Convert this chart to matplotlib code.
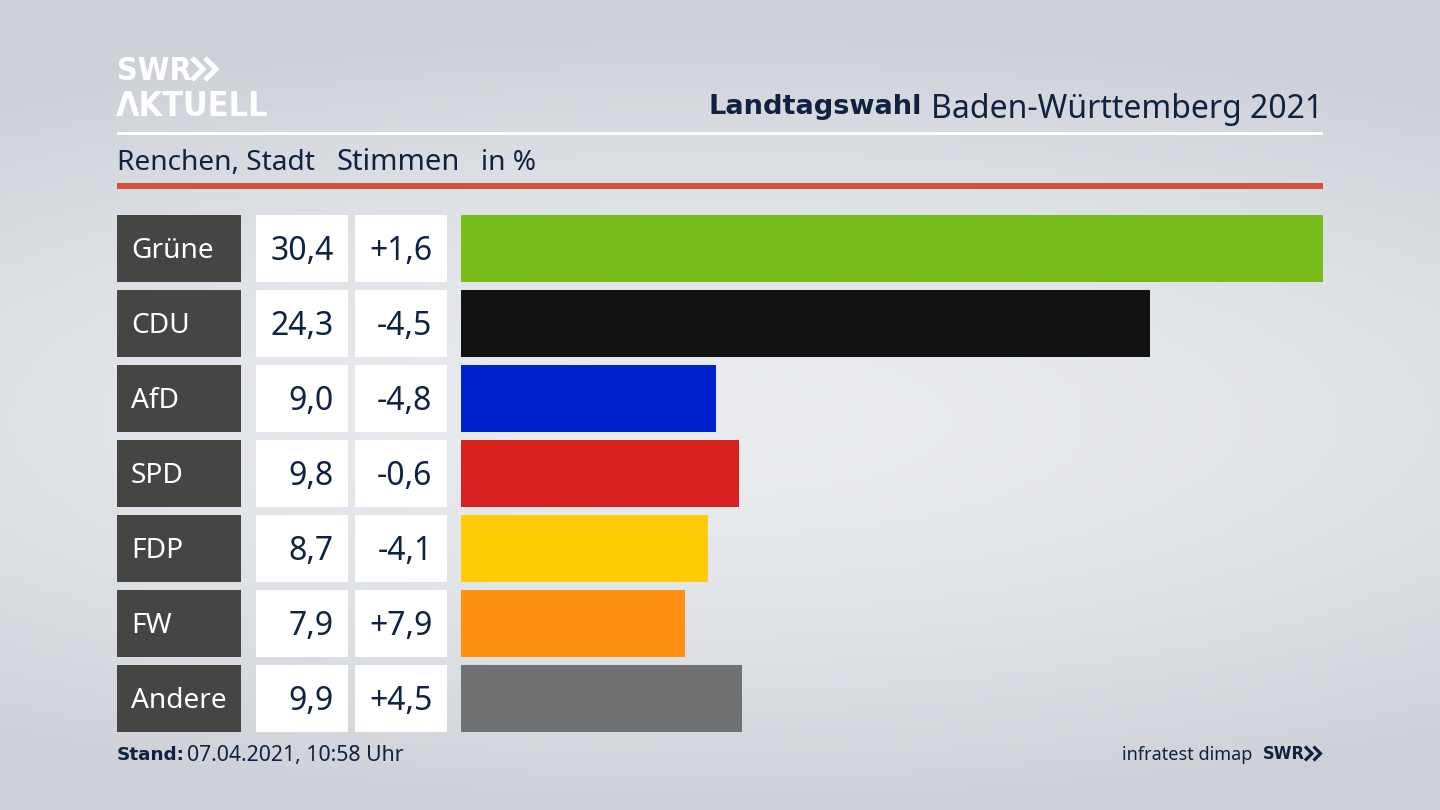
# -*- coding: utf-8 -*-
import numpy as np
import matplotlib
matplotlib.use("Agg")
import matplotlib.pyplot as plt
from matplotlib.patches import Rectangle

plt.rcParams["font.family"] = ["Noto Sans", "DejaVu Sans"]
BOLD = ["DejaVu Sans"]

parties = ["Grüne", "CDU", "AfD", "SPD", "FDP", "FW", "Andere"]
votes = [30.4, 24.3, 9.0, 9.8, 8.7, 7.9, 9.9]
diffs = ["+1,6", "-4,5", "-4,8", "-0,6", "-4,1", "+7,9", "+4,5"]
colors = ["#78bc1a", "#121212", "#0022cc", "#d8201e", "#ffcc08", "#ff9012", "#707173"]

navy = "#0f2240"
row_top = 215
row_h = 66.5
pitch = 75

fig = plt.figure(figsize=(14.4, 8.1), dpi=100)

# whole figure in pixels, y pointing down
bg = fig.add_axes([0, 0, 1, 1])
bg.set_xlim(0, 1440)
bg.set_ylim(810, 0)
bg.axis("off")

# soft light patch in the middle of the grey background
yy, xx = np.mgrid[0:810:200j, 0:1440:200j]
r = np.sqrt(((xx - 720) / 1300) ** 2 + ((yy - 420) / 400) ** 2)
t = np.clip(r, 0, 1) ** 1.5
c0 = np.array([234, 236, 240]) / 255
c1 = np.array([205, 209, 215]) / 255
img = c0[None, None, :] * (1 - t[..., None]) + c1[None, None, :] * t[..., None]
bg.imshow(img, extent=[0, 1440, 810, 0], aspect="auto", zorder=0)


def chevrons(x, y, w, h, gap, color, lw):
    # the two arrows of the SWR logo
    for k in range(2):
        x0 = x + k * gap
        bg.plot([x0, x0 + w, x0], [y - h / 2, y, y + h / 2], color=color, lw=lw,
                solid_joinstyle="miter", solid_capstyle="butt", zorder=3)


# logo
bg.text(117, 72, "SWR", color="white", fontsize=23, fontweight="bold", family=BOLD,
        stretch="condensed", va="center", ha="left")
chevrons(192, 69, 11, 22, 13, "white", 3.6)
bg.text(116, 106, "ΛKTUELL", color="white", fontsize=24.5, fontweight="bold", family=BOLD,
        stretch="condensed", va="center", ha="left")

# header
t2 = bg.text(1323, 109, "Baden-Württemberg 2021", color=navy, fontsize=23, va="center", ha="right")
fig.canvas.draw()
ext = t2.get_window_extent()
bg.text(ext.x0 - 9, 107, "Landtagswahl", color=navy, fontsize=19.6, fontweight="bold", family=BOLD,
        va="center", ha="right")
bg.add_patch(Rectangle((117, 132), 1206, 3, color="white", lw=0, zorder=2))
bg.text(117, 163, "Renchen, Stadt", color=navy, fontsize=20.2, va="center", ha="left")
bg.text(337, 163, "Stimmen", color=navy, fontsize=21, va="center", ha="left")
bg.text(481, 163, "in %", color=navy, fontsize=20.2, va="center", ha="left")
bg.add_patch(Rectangle((117, 183), 1206, 6, color="#cf5239", lw=0, zorder=2))

# table columns
for i, p in enumerate(parties):
    y = row_top + i * pitch
    yc = y + row_h / 2
    bg.add_patch(Rectangle((117, y), 124, row_h, color="#454543", lw=0, zorder=2))
    bg.add_patch(Rectangle((256, y), 92, row_h, color="white", lw=0, zorder=2))
    bg.add_patch(Rectangle((355, y), 92, row_h, color="white", lw=0, zorder=2))
    bg.text(131, yc + 3, p, color="white", fontsize=20.2, va="center", ha="left", zorder=3)
    bg.text(334, yc + 3, f"{votes[i]:.1f}".replace(".", ","), color=navy, fontsize=23, va="center", ha="right", zorder=3)
    bg.text(432.5, yc + 3, diffs[i], color=navy, fontsize=23, va="center", ha="right", zorder=3)

# imshow and plot must not move the pixel frame
bg.set_xlim(0, 1440)
bg.set_ylim(810, 0)

# bars
ax = fig.add_axes([461 / 1440, 1 - (row_top + 6 * pitch + row_h) / 810,
                   862 / 1440, (6 * pitch + row_h) / 810])
ax.patch.set_alpha(0)
ax.barh(range(len(parties)), votes, height=row_h / pitch, color=colors, linewidth=0)
ax.set_xlim(0, max(votes))
ax.set_ylim(6 + row_h / pitch / 2, -row_h / pitch / 2)
ax.axis("off")

# footer
bg.text(117, 755, "Stand:", color=navy, fontsize=13.2, fontweight="bold", family=BOLD, va="center", ha="left")
bg.text(187, 756, "07.04.2021, 10:58 Uhr", color=navy, fontsize=15.3, va="center", ha="left")
bg.text(1252, 755, "infratest dimap", color=navy, fontsize=13, va="center", ha="right")
bg.text(1263, 754, "SWR", color=navy, fontsize=13, fontweight="bold", family=BOLD,
        stretch="condensed", va="center", ha="left")
chevrons(1305, 753.5, 7, 14, 8.5, navy, 2.3)
bg.set_xlim(0, 1440)
bg.set_ylim(810, 0)

fig.savefig("out.png", dpi=100)
